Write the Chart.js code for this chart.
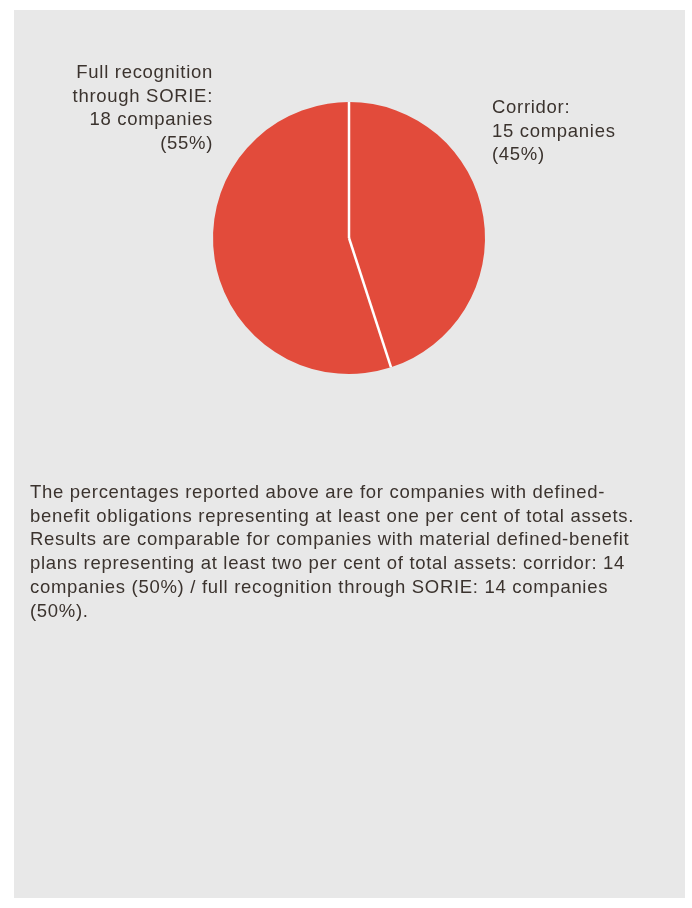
<!DOCTYPE html>
<html>
<head>
<meta charset="utf-8">
<script src="https://cdn.jsdelivr.net/npm/chart.js@4/dist/chart.umd.min.js"></script>
<style>
  html, body { margin: 0; padding: 0; background: #fff; }
  #wrap { position: relative; width: 692px; height: 908px; }
  #panel { position: absolute; left: 14px; top: 10px; width: 671px; height: 888px; background: #e8e8e8; }
  #pie { position: absolute; left: 0; top: 0; }
  #note {
    position: absolute; left: 30px; top: 480px; width: 650px;
    font-family: "Liberation Sans", Arial, sans-serif; font-size: 18.5px; line-height: 23.7px;
    letter-spacing: 0.7px; color: #3b332e; white-space: nowrap;
  }
</style>
</head>
<body>
<div id="wrap">
  <div id="panel"></div>
  <canvas id="pie" width="692" height="908"></canvas>
  <div id="note">The percentages reported above are for companies with defined-<br>benefit obligations representing at least one per cent of total assets.<br>Results are comparable for companies with material defined-benefit<br>plans representing at least two per cent of total assets: corridor: 14<br>companies (50%) / full recognition through SORIE: 14 companies<br>(50%).</div>
</div>
<script>
// accounting treatment of actuarial gains and losses
const methods = ['Corridor', 'Full recognition through SORIE'];
const companies = [15, 18];
const shares = [45, 55];
const labelLines = [['Corridor:'], ['Full recognition', 'through SORIE:']];

const textColor = '#3b332e';
const sliceColor = '#e24b3b';

// thin white cuts between slices, taken from each arc's start angle
let sliceCuts = {
    id: 'sliceCuts',
    afterDatasetsDraw: function (chart) {
        let ctx = chart.ctx;
        let arcs = chart.getDatasetMeta(0).data;
        ctx.save();
        ctx.strokeStyle = '#ffffff';
        ctx.lineWidth = 2.5;
        arcs.forEach(function (arc) {
            let p = arc.getProps(['x', 'y', 'startAngle', 'outerRadius']);
            ctx.beginPath();
            ctx.moveTo(p.x, p.y);
            ctx.lineTo(p.x + p.outerRadius * Math.cos(p.startAngle), p.y + p.outerRadius * Math.sin(p.startAngle));
            ctx.stroke();
        });
        ctx.restore();
    }
};

// writes each slice's caption next to the pie
let sliceLabels = {
    id: 'sliceLabels',
    afterDraw: function (chart) {
        let ctx = chart.ctx;
        let spots = [
            { x: 492, y: 108, align: 'left' },
            { x: 213, y: 73, align: 'right' }
        ];
        ctx.save();
        ctx.fillStyle = textColor;
        ctx.font = '18.5px "Liberation Sans", Arial, sans-serif';
        ctx.letterSpacing = '0.7px';
        ctx.textBaseline = 'middle';
        for (let i = 0; i < companies.length; i++) {
            let lines = labelLines[i].concat([companies[i] + ' companies', '(' + shares[i] + '%)']);
            ctx.textAlign = spots[i].align;
            lines.forEach(function (line, k) {
                ctx.fillText(line, spots[i].x, spots[i].y + k * 23.5);
            });
        }
        ctx.restore();
    }
};

let ctx = document.getElementById('pie').getContext('2d');
let pieChart = new Chart(ctx, {
    type: 'pie',
    data: {
        labels: methods,
        datasets: [{
            data: shares,
            backgroundColor: sliceColor,
            borderWidth: 0
        }]
    },
    options: {
        responsive: false,
        animation: false,
        layout: {
            padding: { left: 213, right: 207, top: 102, bottom: 534 }
        },
        plugins: {
            legend: { display: false },
            tooltip: { enabled: false }
        }
    },
    plugins: [sliceCuts, sliceLabels]
});
</script>
</body>
</html>
